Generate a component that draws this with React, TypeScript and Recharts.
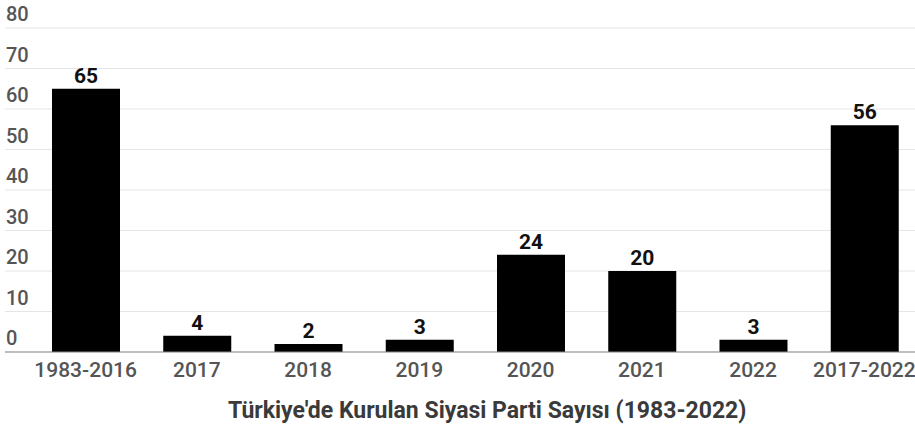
import { BarChart, Bar, XAxis, YAxis, CartesianGrid, LabelList } from 'recharts';

const categories = ['1983-2016', '2017', '2018', '2019', '2020', '2021', '2022', '2017-2022'];
const partyCounts = [65, 4, 2, 3, 24, 20, 3, 56];
const yTicks = [0, 10, 20, 30, 40, 50, 60, 70, 80];
const title = "Türkiye'de Kurulan Siyasi Parti Sayısı (1983-2022)";

const data = categories.map((c, i) => ({ name: c, value: partyCounts[i] }));

const FONT = 'Roboto, "Noto Sans", sans-serif';

const renderYTick = (props: any) => {
  const { y, payload } = props;
  return (
    <text x={6} y={y - 7} fill="#555" fontSize={20} fontWeight={500} fontFamily={FONT} textAnchor="start">
      {payload.value}
    </text>
  );
};

export default function App() {
  return (
    <div style={{ position: 'absolute', left: 0, top: 0, width: 915, height: 426, overflow: 'hidden', background: '#fff', fontFamily: FONT }}>
      <BarChart width={925} height={385} data={data} margin={{ top: 28, right: 5, bottom: 0, left: 4 }}>
        <CartesianGrid vertical={false} stroke="#e5e5e5" />
        <YAxis width={1} domain={[0, 80]} ticks={yTicks} axisLine={false} tickLine={false} tick={renderYTick} interval={0} />
        <XAxis
          dataKey="name"
          padding={{ left: 25, right: 0 }}
          axisLine={{ stroke: '#888' }}
          tickLine={false}
          tickSize={0}
          tickMargin={10}
          interval={0}
          height={33}
          tick={{ fill: '#555', fontSize: 21, fontWeight: 500, fontFamily: FONT }}
        />
        <Bar dataKey="value" fill="#000" barSize={68} isAnimationActive={false}>
          <LabelList dataKey="value" position="top" offset={6} fill="#111" fontSize={21} fontWeight={700} fontFamily={FONT} />
        </Bar>
      </BarChart>
      <div style={{ position: 'absolute', left: 228, top: 397, fontSize: 23, fontWeight: 700, color: '#3a3a3a', whiteSpace: 'nowrap' }}>
        {title}
      </div>
    </div>
  );
}
